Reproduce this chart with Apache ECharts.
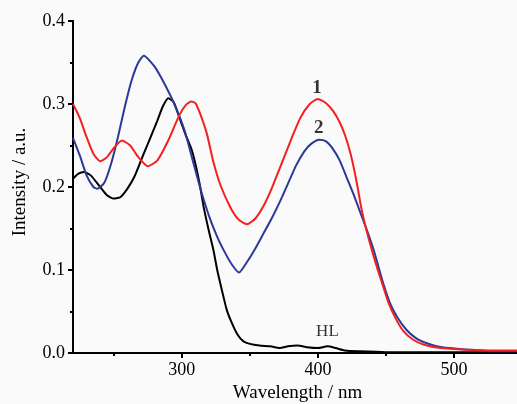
<!DOCTYPE html>
<html>
<head>
<meta charset="utf-8">
<script src="https://cdn.jsdelivr.net/npm/echarts@6/dist/echarts.min.js"></script>
<style>
html,body{margin:0;padding:0;background:#fafafa;}
#c{width:517px;height:404px;}
</style>
</head>
<body>
<div id="c"></div>
<script>
// Curve 1 (red)
var wl1 = [220,225,230,235,240,245,250,256,262,268,275,282,290,298,303,307,310,313.5,318.4,323.2,328.2,335.5,341.6,347.8,354,360,366,372.3,380,387,394,400,406,411,416,420,424,428,432,436,440,444,448,452,457,463,470,478,490,510,530,550];
var int1 = [0.300,0.283,0.260,0.240,0.231,0.236,0.247,0.256,0.250,0.236,0.225,0.232,0.256,0.286,0.299,0.303,0.301,0.288,0.264,0.230,0.203,0.176,0.161,0.155,0.162,0.177,0.198,0.224,0.256,0.283,0.300,0.306,0.301,0.292,0.278,0.262,0.240,0.210,0.174,0.146,0.122,0.100,0.080,0.060,0.042,0.026,0.016,0.010,0.006,0.004,0.003,0.003];
// Curve 2 (blue)
var wl2 = [220,225,230,235,238,243,248,253,258,263,268,272,280,288,295,302,308,314,320,326,332,337,342,348,354,360,366,372,378,384,390,395,401,406,411,416,421,426,431,436,441,444.5,448,453,458,465,472,478,488,497,510,530,550];
var int2 = [0.259,0.238,0.214,0.200,0.198,0.205,0.228,0.260,0.296,0.328,0.350,0.358,0.345,0.322,0.298,0.268,0.232,0.196,0.165,0.140,0.120,0.106,0.097,0.110,0.126,0.144,0.162,0.182,0.204,0.226,0.243,0.252,0.257,0.255,0.246,0.232,0.212,0.192,0.170,0.148,0.124,0.104,0.084,0.060,0.044,0.028,0.018,0.013,0.008,0.006,0.004,0.002,0.002];
// HL (black)
var wlHL = [220,224,228,233,240,245,250,255,260,265,270,276,282,286,290,294,299,303,307.4,310.5,313.5,316,320,323.2,326,329.4,333,336.8,341,345.3,350,357,365,372,378,385,392,400,407,413,420,430,450,500,550];
var intHL = [0.210,0.216,0.218,0.214,0.200,0.190,0.186,0.188,0.198,0.212,0.232,0.256,0.280,0.297,0.307,0.302,0.280,0.262,0.244,0.224,0.200,0.176,0.146,0.124,0.100,0.076,0.052,0.036,0.022,0.014,0.011,0.009,0.008,0.006,0.008,0.009,0.007,0.006,0.008,0.006,0.003,0.002,0.001,0.001,0.001];
// annotations
var noteText = ['1','2','HL'];
var noteX = [399.3,400.6,407];
var noteY = [0.319,0.271,0.026];
var noteBold = [true,true,false];
// axis ticks
var xMajorTicks = [300,400,500];
var xMinorTicks = [250,350,450];
var yMinorTicks = [0.05,0.15,0.25,0.35];

function pairs(x,y){return x.map(function(v,i){return [v,y[i]];});}

var font = 'Liberation Serif';
var chart = echarts.init(document.getElementById('c'), null, {renderer:'canvas'});
var lineStyleAxis = {color:'#000', width:2};
chart.setOption({
  backgroundColor:'#fafafa',
  animation:false,
  grid:{left:73, right:-5, top:21, bottom:51, containLabel:false, outerBoundsMode:'none'},
  xAxis:[
    {
      type:'value', min:220, max:550,
      name:'Wavelength / nm', nameLocation:'middle', nameGap:31,
      nameTextStyle:{fontFamily:font, fontSize:19, color:'#000'},
      axisLine:{show:true, onZero:false, lineStyle:lineStyleAxis},
      splitLine:{show:false},
      axisTick:{show:true, inside:false, length:5, lineStyle:lineStyleAxis, customValues:xMajorTicks},
      axisLabel:{show:true, margin:8, fontFamily:font, fontSize:18, color:'#000', customValues:xMajorTicks}
    },
    {
      type:'value', min:220, max:550, position:'bottom',
      axisLine:{show:true, onZero:false, lineStyle:lineStyleAxis},
      splitLine:{show:false},
      axisTick:{show:true, inside:false, length:3, lineStyle:lineStyleAxis, customValues:xMinorTicks},
      axisLabel:{show:false}
    }
  ],
  yAxis:[
    {
      type:'value', min:0, max:0.4, interval:0.1,
      name:'Intensity / a.u.', nameLocation:'middle', nameGap:43, nameRotate:90,
      nameTextStyle:{fontFamily:font, fontSize:19, color:'#000', padding:[0,0,0,10]},
      axisLine:{show:true, onZero:false, lineStyle:lineStyleAxis},
      axisTick:{show:true, inside:false, length:5, lineStyle:lineStyleAxis},
      splitLine:{show:false},
      axisLabel:{margin:8, fontFamily:font, fontSize:18, color:'#000', formatter:function(v){return v.toFixed(1);}}
    },
    {
      type:'value', min:0, max:0.4, position:'left', offset:0,
      axisLine:{show:true, onZero:false, lineStyle:lineStyleAxis},
      splitLine:{show:false},
      axisTick:{show:true, inside:false, length:3, lineStyle:lineStyleAxis, customValues:yMinorTicks},
      axisLabel:{show:false}
    }
  ],
  series:[
    {type:'line', name:'HL', data:pairs(wlHL,intHL), showSymbol:false, smooth:0.2, lineStyle:{color:'#000', width:2}},
    {type:'line', name:'2', data:pairs(wl2,int2), showSymbol:false, smooth:0.2, lineStyle:{color:'#2c3996', width:2}},
    {type:'line', name:'1', data:pairs(wl1,int1), showSymbol:false, smooth:0.2, lineStyle:{color:'#f22020', width:2}},
    {type:'scatter', symbolSize:0, silent:true,
      data:noteText.map(function(t,i){return {value:[noteX[i],noteY[i]], label:{show:true, position:'inside', formatter:t, fontFamily:font, fontSize:noteBold[i]?19:17, fontWeight:noteBold[i]?'bold':'normal', color:'#000'}};})
    }
  ]
});
</script>
</body>
</html>
